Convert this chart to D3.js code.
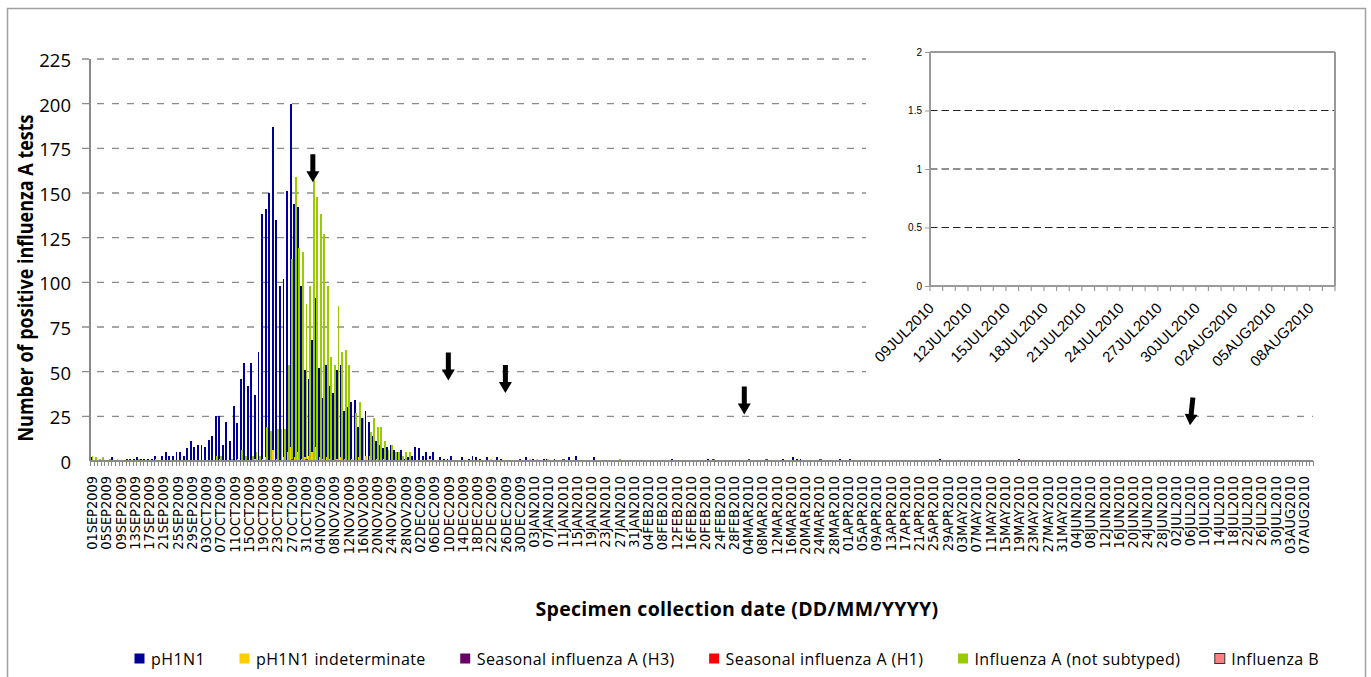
<!DOCTYPE html>
<html>
<head>
  <meta charset="utf-8">
  <title>Positive influenza A tests by specimen collection date</title>
  <script src="https://d3js.org/d3.v7.min.js"></script>
  <style>
    body { margin: 0; background: #fff; }
    .grid line { stroke: #8a8a8a; stroke-width: 1.3; stroke-dasharray: 7,8; }
    .inset-grid line { stroke: #222; stroke-width: 1.1; stroke-dasharray: 7.5,4; }
    .axis-line { stroke: #8a8a8a; stroke-width: 1.3; shape-rendering: crispEdges; }
    .bars rect { shape-rendering: crispEdges; }
  </style>
</head>
<body>
<div id="chart"></div>
<script type="text/javascript">

  // daily counts, 01SEP2009 to 09DEC2009
  var pH1N1Early = [
    2, 0, 0, 0, 0, 0, 2, 0, 0, 0,
    1, 1, 1, 2, 1, 1, 1, 1, 3, 0,
    3, 5, 3, 3, 5, 5, 3, 7, 11, 8,
    9, 9, 8, 12, 14, 25, 25, 9, 22, 11,
    31, 21, 46, 55, 42, 55, 37, 61, 138, 141,
    150, 187, 135, 98, 102, 151, 200, 144, 142, 98,
    51, 46, 68, 91, 52, 35, 54, 42, 38, 51,
    54, 28, 30, 33, 34, 19, 24, 28, 22, 14,
    11, 9, 7, 8, 9, 6, 5, 6, 1, 2,
    3, 8, 7, 3, 5, 3, 5, 0, 2, 1
  ];
  var notSubtypedEarly = [
    3, 2, 1, 2, 0, 1, 0, 1, 0, 0,
    0, 0, 0, 1, 0, 0, 0, 0, 0, 0,
    0, 0, 0, 0, 0, 0, 0, 0, 0, 0,
    0, 0, 0, 0, 0, 3, 3, 0, 0, 1,
    0, 0, 6, 3, 0, 3, 5, 3, 0, 19,
    17, 0, 18, 18, 18, 54, 113, 159, 119, 117,
    88, 98, 157, 148, 138, 127, 98, 58, 54, 87,
    61, 62, 54, 0, 27, 33, 24, 0, 16, 24,
    19, 19, 11, 6, 9, 5, 5, 3, 5, 5,
    0, 0, 0, 0, 0, 0, 0, 0, 0, 0
  ];

  // later days and the smaller series, as [date, count]
  var pH1N1Late = [
    ['10DEC2009', 1], ['11DEC2009', 3], ['14DEC2009', 2], ['16DEC2009', 1], ['17DEC2009', 3],
    ['18DEC2009', 2], ['19DEC2009', 1], ['21DEC2009', 2], ['24DEC2009', 2], ['25DEC2009', 1],
    ['01JAN2010', 2], ['02JAN2010', 1], ['03JAN2010', 1], ['06JAN2010', 1], ['07JAN2010', 1],
    ['09JAN2010', 1], ['13JAN2010', 2], ['15JAN2010', 3], ['20JAN2010', 2], ['11FEB2010', 1],
    ['21FEB2010', 1], ['14MAR2010', 1], ['17MAR2010', 2], ['18MAR2010', 1], ['19MAR2010', 1],
    ['30MAR2010', 1], ['02APR2010', 1], ['27APR2010', 1]
  ];
  var notSubtypedLate = [['27JAN2010', 1]];
  var indeterminate = [
    ['19SEP2009', 1], ['07OCT2009', 1], ['12OCT2009', 1], ['17OCT2009', 1], ['19OCT2009', 1],
    ['20OCT2009', 2], ['22OCT2009', 6], ['23OCT2009', 1], ['25OCT2009', 2], ['26OCT2009', 5],
    ['27OCT2009', 8], ['28OCT2009', 2], ['29OCT2009', 5], ['30OCT2009', 1], ['31OCT2009', 2],
    ['01NOV2009', 3], ['02NOV2009', 5], ['03NOV2009', 8], ['04NOV2009', 2], ['05NOV2009', 1],
    ['06NOV2009', 2], ['07NOV2009', 1], ['09NOV2009', 1], ['10NOV2009', 2], ['11NOV2009', 1],
    ['13NOV2009', 1], ['15NOV2009', 2], ['17NOV2009', 3], ['18NOV2009', 3], ['20NOV2009', 1],
    ['22NOV2009', 1], ['05DEC2009', 1], ['22DEC2009', 1], ['02JAN2010', 1], ['04JAN2010', 1],
    ['07JAN2010', 1]
  ];
  var seasonalH3 = [['30DEC2009', 1], ['19MAY2010', 1]];
  var seasonalH1 = [];
  var influenzaB = [
    ['27OCT2009', 1], ['31OCT2009', 1], ['11JAN2010', 1], ['22FEB2010', 1],
    ['04MAR2010', 1], ['09MAR2010', 1], ['24MAR2010', 1]
  ];

  var seriesNames = ['pH1N1', 'pH1N1 indeterminate', 'Seasonal influenza A (H3)',
                     'Seasonal influenza A (H1)', 'Influenza A (not subtyped)', 'Influenza B'];
  var seriesColors = ['#000099', '#FFCC00', '#660066', '#FF0000', '#99CC00', '#FF8080'];
  var yTicks = [0, 25, 50, 75, 100, 125, 150, 175, 200, 225];
  var insetYTicks = [0, 0.5, 1, 1.5, 2];

  // arrows drawn on the chart: [date, count at the tip]
  var arrows = [['02NOV2009', 156], ['10DEC2009', 45], ['26DEC2009', 38], ['03MAR2010', 26], ['06JUL2010', 20]];

  var fmt = function(d) { return d3.timeFormat('%d%b%Y')(d).toUpperCase(); };
  var days = d3.timeDay.range(new Date(2009, 8, 1), new Date(2010, 7, 10)).map(fmt);
  var insetDays = d3.timeDay.range(new Date(2010, 6, 9), new Date(2010, 7, 10)).map(fmt);

  function toMap(dense, sparse) {
    var m = new Map();
    (dense || []).forEach(function(v, i) { if (v) m.set(days[i], v); });
    (sparse || []).forEach(function(p) { m.set(p[0], p[1]); });
    return m;
  }
  var seriesValues = [
    toMap(pH1N1Early, pH1N1Late),
    toMap(null, indeterminate),
    toMap(null, seasonalH3),
    toMap(null, seasonalH1),
    toMap(notSubtypedEarly, notSubtypedLate),
    toMap(null, influenzaB)
  ];

  var width = 1371, height = 677;
  var svg = d3.select('#chart').append('svg')
              .attr('width', width)
              .attr('height', height);

  // chart frame
  svg.append('rect')
     .attr('x', 7.5).attr('y', 8.5)
     .attr('width', 1358).attr('height', height)
     .attr('fill', '#fff')
     .attr('stroke', '#a0a0a0')
     .attr('stroke-width', 1.5);

  var x = d3.scaleBand().domain(days).range([90, 1313]);
  var y = d3.scaleLinear().domain([0, 225]).range([461, 59]);
  var barW = 1.9;
  var xs = d3.scalePoint().domain(seriesNames).range([0, x.bandwidth() * 0.55]);

  // gridlines
  svg.append('g').attr('class', 'grid')
     .selectAll('line')
     .data(yTicks.slice(1))
     .enter().append('line')
       .attr('x1', 82).attr('x2', x.range()[1])
       .attr('y1', function(d) { return y(d); })
       .attr('y2', function(d) { return y(d); });

  // bars
  var bars = svg.append('g').attr('class', 'bars');
  seriesNames.forEach(function(name, i) {
    var vals = days.filter(function(d) { return seriesValues[i].has(d); })
                   .map(function(d) { return {day: d, value: seriesValues[i].get(d)}; });
    bars.append('g')
        .attr('fill', seriesColors[i])
        .attr('stroke', i === 5 ? '#333' : null)
        .attr('stroke-width', i === 5 ? 0.8 : null)
      .selectAll('rect')
      .data(vals)
      .enter().append('rect')
        .attr('x', function(d) { return x(d.day) + xs(name); })
        .attr('y', function(d) { return y(d.value); })
        .attr('width', barW)
        .attr('height', function(d) { return y(0) - y(d.value); });
  });

  // axes
  svg.append('line').attr('class', 'axis-line')
     .attr('x1', 90).attr('x2', 90).attr('y1', y(225)).attr('y2', y(0));
  svg.append('line').attr('class', 'axis-line')
     .attr('x1', 90).attr('x2', x.range()[1]).attr('y1', y(0)).attr('y2', y(0));

  var boundaries = days.map(function(d) { return x(d); }).concat([x.range()[1]]);
  svg.append('g')
     .selectAll('line')
     .data(boundaries)
     .enter().append('line')
       .attr('x1', function(d) { return Math.round(d) + 0.5; })
       .attr('x2', function(d) { return Math.round(d) + 0.5; })
       .attr('y1', y(0)).attr('y2', y(0) + 5)
       .attr('stroke', '#8a8a8a')
       .attr('stroke-width', 1);

  var x_axis = d3.axisBottom(x)
                 .tickValues(days.filter(function(d, i) { return i % 4 === 0; }))
                 .tickSize(0);
  var gx = svg.append('g')
              .attr('transform', 'translate(0,' + y(0) + ')')
              .call(x_axis);
  gx.select('.domain').remove();
  gx.selectAll('text')
    .attr('transform', 'rotate(-90) scale(1,1.14)')
    .attr('x', -15).attr('y', 0)
    .attr('dy', '0.35em')
    .style('text-anchor', 'end')
    .style('font-family', 'DejaVu Sans')
    .style('font-size', '13px')
    .style('fill', '#000');

  var y_axis = d3.axisLeft(y).tickValues(yTicks).tickSize(0).tickPadding(19);
  var gy = svg.append('g')
              .attr('transform', 'translate(90,0)')
              .call(y_axis);
  gy.select('.domain').remove();
  gy.selectAll('text')
    .attr('dy', '0.4em')
    .style('font-family', 'Open Sans')
    .style('font-size', '18.5px')
    .style('fill', '#000');

  // axis titles
  svg.append('text')
     .text('Number of positive influenza A tests')
     .attr('transform', 'translate(33,278) rotate(-90) scale(1,1.22)')
     .style('text-anchor', 'middle')
     .style('font-family', 'Open Sans')
     .style('font-weight', 'bold')
     .style('font-size', '18px');

  svg.append('text')
     .text('Specimen collection date (DD/MM/YYYY)')
     .attr('x', 737).attr('y', 616)
     .style('text-anchor', 'middle')
     .style('font-family', 'Open Sans')
     .style('font-weight', 'bold')
     .style('font-size', '19.5px')
     .style('letter-spacing', '0.3px');

  // arrows
  svg.append('g')
     .selectAll('path')
     .data(arrows)
     .enter().append('path')
       .attr('d', 'M-2.5,-28L2.5,-28L2.5,-11L6.5,-11L0,0L-6.5,-11L-2.5,-11Z')
       .attr('transform', function(d, i) {
         var tilt = (i === arrows.length - 1) ? 6 : 0;
         return 'translate(' + (x(d[0]) + x.bandwidth() / 2) + ',' + y(d[1]) + ') rotate(' + tilt + ')';
       })
       .attr('fill', '#000');

  // inset chart (09JUL2010 - 09AUG2010)
  svg.append('rect')
     .attr('x', 866).attr('y', 36)
     .attr('width', 479).attr('height', 352)
     .attr('fill', '#fff');

  var ix = d3.scaleBand().domain(insetDays).range([930, 1335]);
  var iy = d3.scaleLinear().domain([0, 2]).range([286, 52]);

  svg.append('g').attr('class', 'inset-grid')
     .selectAll('line')
     .data(insetYTicks.slice(1, -1))
     .enter().append('line')
       .attr('x1', 930).attr('x2', 1335)
       .attr('y1', function(d) { return iy(d); })
       .attr('y2', function(d) { return iy(d); });

  var frame = [
    [930, iy(2), 1335, iy(2)],
    [1335, iy(2), 1335, iy(0)],
    [930, iy(2), 930, iy(0)],
    [930, iy(0), 1335, iy(0)]
  ];
  svg.append('g')
     .selectAll('line')
     .data(frame)
     .enter().append('line')
       .attr('x1', function(d) { return d[0]; })
       .attr('y1', function(d) { return d[1]; })
       .attr('x2', function(d) { return d[2]; })
       .attr('y2', function(d) { return d[3]; })
       .attr('stroke', '#9a9a9a')
       .attr('stroke-width', 2);

  var iy_axis = d3.axisLeft(iy).tickValues(insetYTicks).tickFormat(d3.format('~g')).tickSize(5).tickPadding(3);
  var giy = svg.append('g')
               .attr('transform', 'translate(930,0)')
               .call(iy_axis);
  giy.select('.domain').remove();
  giy.selectAll('line').attr('stroke', '#9a9a9a');
  giy.selectAll('text')
     .style('font-family', 'Liberation Sans')
     .style('font-size', '10px')
     .style('fill', '#000');

  var insetBounds = insetDays.map(function(d) { return ix(d); }).concat([ix.range()[1]]);
  svg.append('g')
     .selectAll('line')
     .data(insetBounds)
     .enter().append('line')
       .attr('x1', function(d) { return d; })
       .attr('x2', function(d) { return d; })
       .attr('y1', iy(0)).attr('y2', iy(0) + 5)
       .attr('stroke', '#9a9a9a')
       .attr('stroke-width', 1.2);

  svg.append('g')
     .selectAll('text')
     .data(insetDays.filter(function(d, i) { return i % 3 === 0; }))
     .enter().append('text')
       .text(function(d) { return d; })
       .attr('transform', function(d) { return 'translate(' + (ix(d) + 5) + ',309) rotate(-45)'; })
       .style('text-anchor', 'end')
       .style('font-family', 'Liberation Sans')
       .style('font-size', '15px');

  // legend
  var legend = svg.append('g').attr('transform', 'translate(134,659)');
  var lx = 0;
  seriesNames.forEach(function(name, i) {
    var item = legend.append('g').attr('transform', 'translate(' + lx + ',0)');
    item.append('rect')
        .attr('x', 0.5).attr('y', -5.5)
        .attr('width', 10).attr('height', 10)
        .attr('fill', seriesColors[i])
        .attr('stroke', i === 5 ? '#333' : 'none');
    var t = item.append('text')
                .text(name)
                .attr('x', 17)
                .attr('dy', '0.36em')
                .style('font-family', 'Open Sans')
                .style('font-size', '16px')
                .style('letter-spacing', '0.4px');
    lx += 17 + t.node().getComputedTextLength() + 34;
  });

</script>
</body>
</html>
